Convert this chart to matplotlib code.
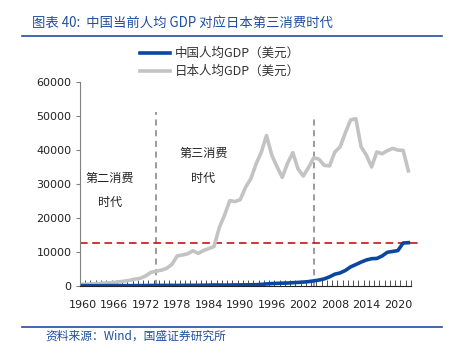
import matplotlib.pyplot as plt
import numpy as np

plt.rcParams['font.family'] = ['Noto Sans CJK SC', 'DejaVu Sans']

years = list(range(1960, 2023))
china = [90, 76, 71, 74, 85, 98, 104, 97, 91, 100, 113, 119, 132, 157, 160, 178, 165, 185,
         156, 184, 195, 197, 203, 225, 251, 294, 282, 251, 284, 311, 318, 333, 366, 377, 473,
         610, 709, 782, 829, 873, 959, 1053, 1149, 1289, 1509, 1753, 2099, 2694, 3468, 3832,
         4550, 5614, 6301, 7020, 7636, 8016, 8094, 8817, 9905, 10144, 10409, 12618, 12720]
japan = [475, 564, 633, 718, 835, 919, 1058, 1228, 1450, 1669, 2037, 2272, 2967, 3997, 4354,
         4659, 5197, 6335, 8821, 9105, 9463, 10361, 9578, 10425, 10984, 11577, 17112, 20745,
         25051, 24813, 25359, 28925, 31465, 35766, 39269, 44198, 38437, 35022, 31903, 36026,
         39169, 34406, 32289, 34808, 37688, 37218, 35434, 35275, 39339, 40855, 44968, 48760,
         49145, 40898, 38475, 34961, 39375, 38834, 39751, 40416, 39918, 39827, 33815]
era_years = [1974, 2004]
era_tops = [51000, 50000]
ref_level = 12600
ylim = (0, 60000)

blue = '#0b47a1'
gray = '#c3c3c3'
head_blue = '#1f4e9e'

fig = plt.figure(figsize=(4.55, 3.54), dpi=100)
ax = fig.add_axes([0.1758, 0.1921, 0.7275, 0.5771])

x = np.arange(len(years)) + 0.5
ax.plot(x, china, color=blue, lw=2.6, label='中国人均GDP（美元）', zorder=4)
ax.plot(x, japan, color=gray, lw=2.6, label='日本人均GDP（美元）', zorder=3)

for yr, top in zip(era_years, era_tops):
    xi = years.index(yr) + 0.5
    ax.plot([xi, xi], [0, top], color='#808080', lw=1.1, ls=(0, (4, 3)), zorder=2)

ax.axhline(ref_level, xmin=0, xmax=1.022, color='#c00000', lw=1.1, ls=(0, (5, 3)),
           clip_on=False, zorder=2)

ax.text(5.7, 31500, '第二消费', ha='center', va='center', fontsize=8.7, color='#222222')
ax.text(5.7, 24500, '时代', ha='center', va='center', fontsize=8.7, color='#222222')
ax.text(23.5, 38800, '第三消费', ha='center', va='center', fontsize=8.7, color='#222222')
ax.text(23.5, 31500, '时代', ha='center', va='center', fontsize=8.7, color='#222222')

ax.set_xlim(0, len(years))
ax.set_ylim(*ylim)
ax.set_yticks(np.arange(0, 60001, 10000))
ax.set_yticklabels([str(v) for v in range(0, 60001, 10000)], family='DejaVu Sans',
                   fontsize=8, color='#222222')
ax.tick_params(axis='y', length=3, color='#808080', pad=3)

lab_idx = list(range(0, len(years), 6))
ax.set_xticks([i + 0.5 for i in lab_idx])
ax.set_xticklabels([str(years[i]) for i in lab_idx], family='DejaVu Sans',
                   fontsize=8, color='#222222')
ax.tick_params(axis='x', length=0, pad=10)
ax.set_xticks(np.arange(0, len(years) + 1), minor=True)
ax.tick_params(axis='x', which='minor', direction='in', length=4, width=0.6, color='#333333')

for s in ['top', 'right']:
    ax.spines[s].set_visible(False)
ax.spines['left'].set_color('#808080')
ax.spines['bottom'].set_color('#222222')

ax.legend(loc='upper left', bbox_to_anchor=(134 / 455, 1 - 41 / 354),
          bbox_transform=fig.transFigure, frameon=False, fontsize=9,
          handlelength=2.4, handletextpad=0.35, labelspacing=0.4, borderpad=0,
          labelcolor='#333333')

fig.text(32 / 455, 1 - 23 / 354, '图表 40:  中国当前人均 GDP 对应日本第三消费时代',
         fontsize=9.6, color=head_blue, style='italic', va='center')
fig.add_artist(plt.Line2D([22 / 455, 442 / 455], [1 - 36 / 354, 1 - 36 / 354],
                          color=head_blue, lw=1.2))
fig.add_artist(plt.Line2D([22 / 455, 442 / 455], [1 - 327 / 354, 1 - 327 / 354],
                          color=head_blue, lw=1.2))
fig.text(45 / 455, 1 - 336 / 354, '资料来源：Wind，国盛证券研究所',
         fontsize=8.5, color=head_blue, style='italic', va='center')

fig.savefig('out.png', dpi=100)
